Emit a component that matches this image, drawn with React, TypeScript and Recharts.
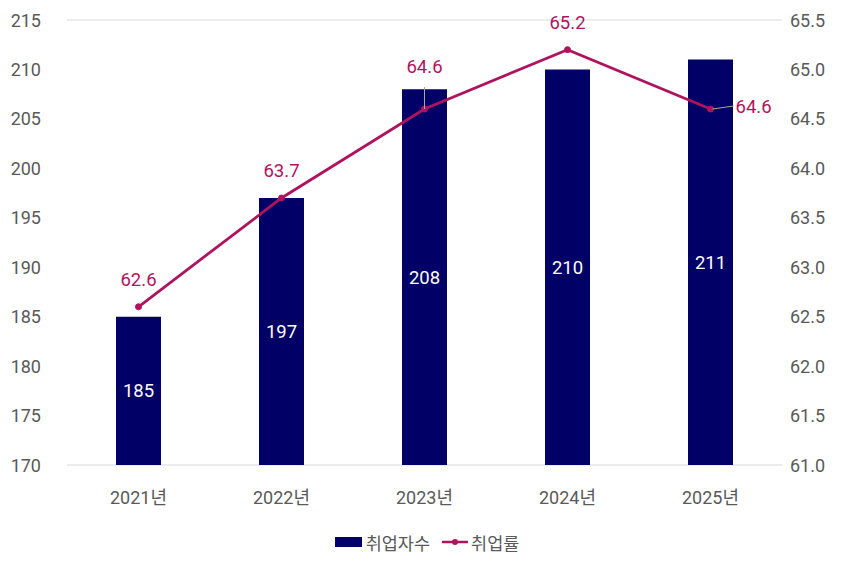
import { ComposedChart, Bar, Line, XAxis, YAxis, CartesianGrid, Legend, LabelList } from 'recharts'

const years = ['2021년', '2022년', '2023년', '2024년', '2025년']
const employed = [185, 197, 208, 210, 211]
const employmentRate = [62.6, 63.7, 64.6, 65.2, 64.6]
const leftTicks = [170, 175, 180, 185, 190, 195, 200, 205, 210, 215]
const rightTicks = [61.0, 61.5, 62.0, 62.5, 63.0, 63.5, 64.0, 64.5, 65.0, 65.5]

const data = years.map((year, i) => ({
  year,
  employed: employed[i],
  rate: employmentRate[i],
}))

const NAVY = '#000066'
const MAGENTA = '#B0135E'
const GRAY = '#595959'
const FONT = "Roboto, 'Noto Sans CJK KR', sans-serif"

const LeftTick = ({ y, payload }: any) => (
  <text x={41} y={y} textAnchor="end" dominantBaseline="central" fill={GRAY} fontSize={18} fontFamily={FONT}>
    {payload.value}
  </text>
)

const RightTick = ({ y, payload }: any) => (
  <text x={790} y={y} textAnchor="start" dominantBaseline="central" fill={GRAY} fontSize={18} fontFamily={FONT}>
    {Number(payload.value).toFixed(1)}
  </text>
)

const YearTick = ({ x, y, payload }: any) => (
  <text x={x} y={y + 24} textAnchor="middle" dominantBaseline="central" fill={GRAY} fontSize={18} fontFamily={FONT}>
    {payload.value}
  </text>
)

// rate labels: most sit above the point, two need a leader line
const RateLabel = ({ x, y, value, index }: any) => {
  const text = Number(value).toFixed(1)
  if (index === 2) {
    return (
      <g>
        <line x1={x} y1={y - 22} x2={x} y2={y} stroke="#A6A6A6" strokeWidth={1} />
        <text x={x} y={y - 42} textAnchor="middle" dominantBaseline="central" fill={MAGENTA} fontSize={18.5} fontFamily={FONT}>
          {text}
        </text>
      </g>
    )
  }
  if (index === 4) {
    return (
      <g>
        <line x1={x + 2} y1={y} x2={x + 23} y2={y - 3} stroke="#A6A6A6" strokeWidth={1} />
        <text x={x + 25} y={y - 2} textAnchor="start" dominantBaseline="central" fill={MAGENTA} fontSize={18.5} fontFamily={FONT}>
          {text}
        </text>
      </g>
    )
  }
  return (
    <text x={x} y={y - 27} textAnchor="middle" dominantBaseline="central" fill={MAGENTA} fontSize={18.5} fontFamily={FONT}>
      {text}
    </text>
  )
}

const LegendContent = () => (
  <div style={{ height: 30, display: 'flex', justifyContent: 'center', alignItems: 'center', fontFamily: FONT, fontSize: 17.5, color: GRAY }}>
    <svg width={27} height={10} style={{ marginRight: 4 }}>
      <rect width={27} height={10} fill={NAVY} />
    </svg>
    <span style={{ marginRight: 12 }}>취업자수</span>
    <svg width={26} height={10} style={{ marginRight: 3 }}>
      <line x1={0} y1={5} x2={26} y2={5} stroke={MAGENTA} strokeWidth={2.5} />
      <circle cx={13} cy={5} r={3} fill={MAGENTA} />
    </svg>
    <span>취업률</span>
  </div>
)

export default function App() {
  return (
    <div style={{ position: 'absolute', left: 0, top: 0 }}>
      <ComposedChart width={854} height={569} data={data} margin={{ top: 20, right: 0, left: 0, bottom: 29 }}>
        <CartesianGrid vertical={false} stroke="#D9D9D9" />
        <XAxis dataKey="year" axisLine={false} tickLine={false} height={45} tick={<YearTick />} />
        <YAxis
          yAxisId="left"
          width={67}
          domain={[170, 215]}
          ticks={leftTicks}
          axisLine={false}
          tickLine={false}
          tick={<LeftTick />}
        />
        <YAxis
          yAxisId="right"
          orientation="right"
          width={72}
          domain={[61, 65.5]}
          ticks={rightTicks}
          axisLine={false}
          tickLine={false}
          tick={<RightTick />}
        />
        <Legend content={<LegendContent />} wrapperStyle={{ top: 527, left: 0, width: 854 }} />
        <Bar yAxisId="left" dataKey="employed" fill={NAVY} barSize={45} isAnimationActive={false}>
          <LabelList dataKey="employed" position="center" fill="#FFFFFF" fontSize={18.5} fontFamily={FONT} />
        </Bar>
        <Line
          yAxisId="right"
          dataKey="rate"
          stroke={MAGENTA}
          strokeWidth={2.8}
          dot={{ r: 3, fill: MAGENTA, stroke: MAGENTA, strokeWidth: 1 }}
          isAnimationActive={false}
        >
          <LabelList dataKey="rate" content={<RateLabel />} />
        </Line>
      </ComposedChart>
    </div>
  )
}
